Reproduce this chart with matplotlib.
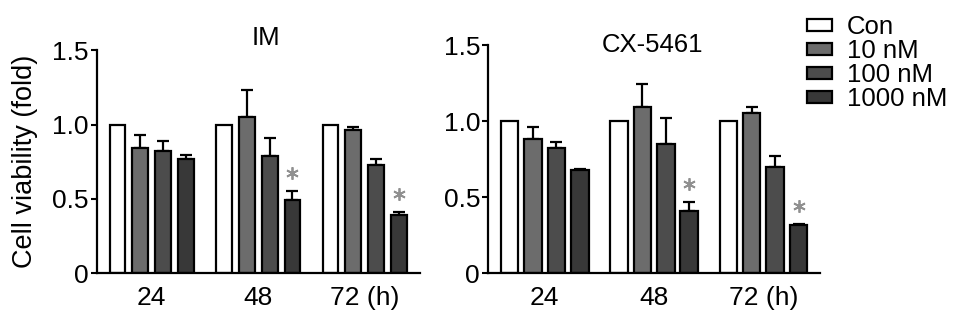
import numpy as np
import matplotlib.pyplot as plt

plt.rcParams['font.family'] = ['Liberation Sans', 'DejaVu Sans']

groups = ['24', '48', '72 (h)']
labels = ['Con', '10 nM', '100 nM', '1000 nM']
colors = ['white', '#6c6c6c', '#4c4c4c', '#383838']

# IM panel: mean and upper error, rows = dose, cols = time
im_mean = [[1.0, 1.0, 1.0],
           [0.84, 1.05, 0.96],
           [0.82, 0.79, 0.73],
           [0.77, 0.49, 0.39]]
im_err = [[0, 0, 0],
          [0.09, 0.18, 0.02],
          [0.067, 0.12, 0.038],
          [0.027, 0.063, 0.022]]

cx_mean = [[1.0, 1.0, 1.0],
           [0.88, 1.09, 1.055],
           [0.82, 0.85, 0.70],
           [0.68, 0.41, 0.315]]
cx_err = [[0, 0, 0],
          [0.08, 0.156, 0.04],
          [0.04, 0.167, 0.073],
          [0.007, 0.055, 0.007]]

# significance marks: (group index, dose index)
stars = [(1, 3), (2, 3)]

FS = 19

fig = plt.figure(figsize=(9.69, 3.24), dpi=100)
ax1 = fig.add_axes([0.100, 0.157, 0.333, 0.688])
ax2 = fig.add_axes([0.504, 0.157, 0.342, 0.704])


def draw(ax, mean, err, title, width, title_pos):
    x = np.arange(len(groups))
    pitch = 0.214
    for i in range(len(labels)):
        pos = x + (i - 1.5) * pitch
        e = np.array(err[i])
        ax.bar(pos, mean[i], width=width, color=colors[i], edgecolor='black',
               linewidth=1.6, label=labels[i], zorder=2)
        if e.any():
            ax.errorbar(pos, mean[i], yerr=[np.zeros_like(e), e], fmt='none',
                        ecolor='black', elinewidth=1.6, capsize=4, capthick=1.6, zorder=1)
    for g, d in stars:
        px = g + (d - 1.5) * pitch
        py = mean[d][g] + err[d][g] + 0.12
        ax.plot(px, py, marker=(6, 2, 0), markersize=9, mew=1.3,
                color='#909090', linestyle='none', clip_on=False)
    ax.set_xlim(-0.515, 2.515)
    ax.set_ylim(0, 1.5)
    ax.set_yticks([0, 0.5, 1.0, 1.5])
    ax.set_yticklabels(['0', '0.5', '1.0', '1.5'])
    ax.set_xticks(x)
    ax.set_xticklabels(groups)
    ax.tick_params(axis='x', length=0, pad=9, labelsize=FS)
    ax.tick_params(axis='y', length=4, width=1.5, pad=2, labelsize=FS)
    for s in ['top', 'right']:
        ax.spines[s].set_visible(False)
    for s in ['left', 'bottom']:
        ax.spines[s].set_linewidth(1.6)
    ax.text(title_pos[0], title_pos[1], title, ha='center', va='center',
            fontsize=FS - 0.5, clip_on=False)


draw(ax1, im_mean, im_err, 'IM', 0.148, (1.07, 1.585))
draw(ax2, cx_mean, cx_err, 'CX-5461', 0.160, (0.99, 1.5))
ax1.set_ylabel('Cell viability (fold)', fontsize=19.5, labelpad=10)

handles, leg_labels = ax2.get_legend_handles_labels()
fig.legend(handles, leg_labels, loc='upper left', bbox_to_anchor=(0.822, 0.985),
           frameon=False, fontsize=18.5, handlelength=1.0, handleheight=0.38,
           handletextpad=0.55, labelspacing=0.0, borderaxespad=0)

fig.savefig('out.png', dpi=100)
